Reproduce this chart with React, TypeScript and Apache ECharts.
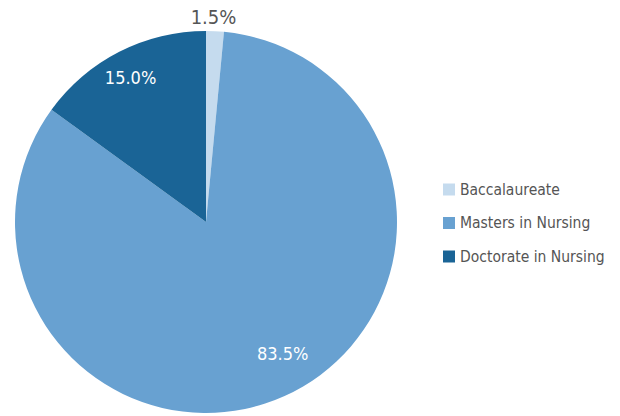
import React, { useEffect, useRef } from "react";
import * as echarts from "echarts";

const categories = ["Baccalaureate", "Masters in Nursing", "Doctorate in Nursing"];
const values = [1.5, 83.5, 15.0];
const colors = ["#c5dbee", "#68a1d1", "#1a6496"];

const FONT = "'DejaVu Sans Condensed', 'Liberation Sans Narrow', sans-serif";

export default function App() {
  const ref = useRef<HTMLDivElement>(null);
  useEffect(() => {
    document.body.style.margin = "0";
    const chart = echarts.init(ref.current!, null, { renderer: "svg" });
    const data = categories.map((name, i) => ({
      name,
      value: values[i],
      itemStyle: { color: colors[i] },
    }));
    const shifts = [
      { dx: 0, dy: -46 },
      { dx: 11, dy: -14 },
      { dx: -3, dy: -2 },
    ];
    chart.setOption({
      animation: false,
      color: colors,
      legend: {
        orient: "vertical",
        left: 438,
        top: 175,
        itemWidth: 12,
        itemHeight: 12,
        itemGap: 14.5,
        icon: "rect",
        data: categories,
        textStyle: { color: "#555555", fontSize: 15.5, fontFamily: FONT, lineHeight: 19 },
      },
      series: [
        {
          type: "pie",
          center: [206, 222],
          radius: [0, 191],
          startAngle: 90,
          clockwise: true,
          label: { show: false },
          labelLine: { show: false },
          emphasis: { disabled: true },
          data,
        },
        {
          type: "pie",
          center: [206, 222],
          radius: [122, 191],
          startAngle: 90,
          clockwise: true,
          silent: true,
          itemStyle: { color: "transparent" },
          labelLine: { show: false },
          label: {
            show: true,
            position: "inside",
            color: "#ffffff",
            fontSize: 18,
            fontFamily: FONT,
            formatter: (p: any) => p.value.toFixed(1) + "%",
          },
          labelLayout: (p: any) => shifts[p.dataIndex] || {},
          data: data.map((d, i) => ({
            name: d.name,
            value: d.value,
            itemStyle: { color: "transparent" },
            label: i === 0 ? { color: "#555555", fontSize: 20 } : {},
          })),
        },
      ],
    });
    return () => chart.dispose();
  }, []);
  return <div ref={ref} style={{ width: 620, height: 416 }} />;
}
